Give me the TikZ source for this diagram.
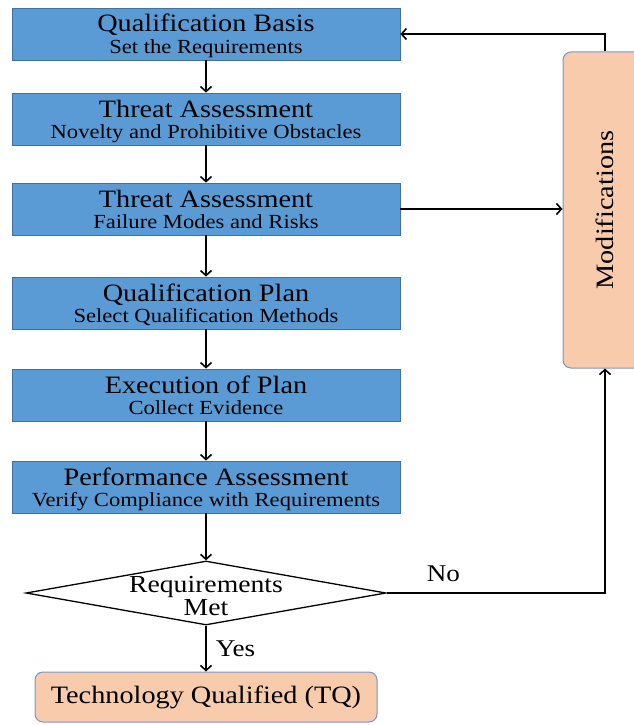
\documentclass[tikz,border=0pt]{standalone}
\usepackage{fontspec}
\setmainfont{Liberation Serif}[FakeStretch=1.13]
\usepackage{tikz}
\usetikzlibrary{arrows.meta,shapes.geometric}
\usetikzlibrary{positioning}
\definecolor{stageblue}{RGB}{91,155,213}
\definecolor{stageedge}{RGB}{65,113,156}
\definecolor{peach}{RGB}{248,203,173}
\definecolor{peachedge}{RGB}{120,150,195}
\tikzset{arrowout/.style={-{Straight Barb[length=5pt,width=11pt]},line width=1.6pt},stage/.style={rectangle, fill=stageblue, draw=stageedge, line width=0.8pt, minimum width=388pt, minimum height=52pt, inner sep=0pt, align=center, text height=43pt, text depth=5pt, font=\fontsize{20}{21}\selectfont},result/.style={rectangle, rounded corners=8pt, fill=peach, draw=peachedge, line width=1pt, inner sep=0pt, font=\fontsize{25}{25}\selectfont},decision/.style={diamond, draw, line width=1.3pt, fill=white, minimum width=360pt, minimum height=64pt, inner sep=0pt},tag/.style={inner sep=3pt, font=\fontsize{24}{24}\selectfont}}
\newcommand{\stagetext}[2]{{\fontsize{25}{25}\selectfont #1}\\#2}

\begin{document}
\begin{tikzpicture}[x=1pt, y=-1pt]
\useasboundingbox (0, 0) rectangle (634, 725);

\node(basis) at (206, 34) [stage] {\stagetext{Qualification Basis}{Set the Requirements}};
\node(novelty) at (206, 119) [stage] {\stagetext{Threat Assessment}{Novelty and Prohibitive Obstacles}};
\node(failure) at (206, 209) [stage] {\stagetext{Threat Assessment}{Failure Modes and Risks}};
\node(plan) at (206, 303) [stage] {\stagetext{Qualification Plan}{Select Qualification Methods}};
\node(exec) at (206, 395) [stage] {\stagetext{Execution of Plan}{Collect Evidence}};
\node(perf) at (206, 487) [stage] {\stagetext{Performance Assessment}{Verify Compliance with Requirements}};
\node(req) at (206, 593) [decision, label={[tag, align=center, yshift=-3pt, font=\fontsize{24.5}{20}\selectfont]center:Requirements\\Met}] {};
\node(tq) at (206, 697) [result, minimum width=342pt, minimum height=50pt] {Technology Qualified (TQ)};
\node(mods) at (605, 210) [result, minimum width=84pt, minimum height=316pt] {\rotatebox{90}{Modifications}};

\draw (basis) edge[arrowout] (novelty);
\draw (novelty) edge[arrowout] (failure);
\draw (failure) edge[arrowout] (plan);
\draw (plan) edge[arrowout] (exec);
\draw (exec) edge[arrowout] (perf);
\draw (perf) edge[arrowout] (req);
\draw[arrowout] (req) -- node[tag, right=6pt] {Yes} (tq);
\draw[arrowout] (req.east) -| node[tag, pos=0.13, above=7pt] {No} (mods.south);
\draw[arrowout] (failure.east) -- (failure.east -| mods.west);
\draw[arrowout] (mods.north) |- (basis.east);

\end{tikzpicture}
\end{document}
